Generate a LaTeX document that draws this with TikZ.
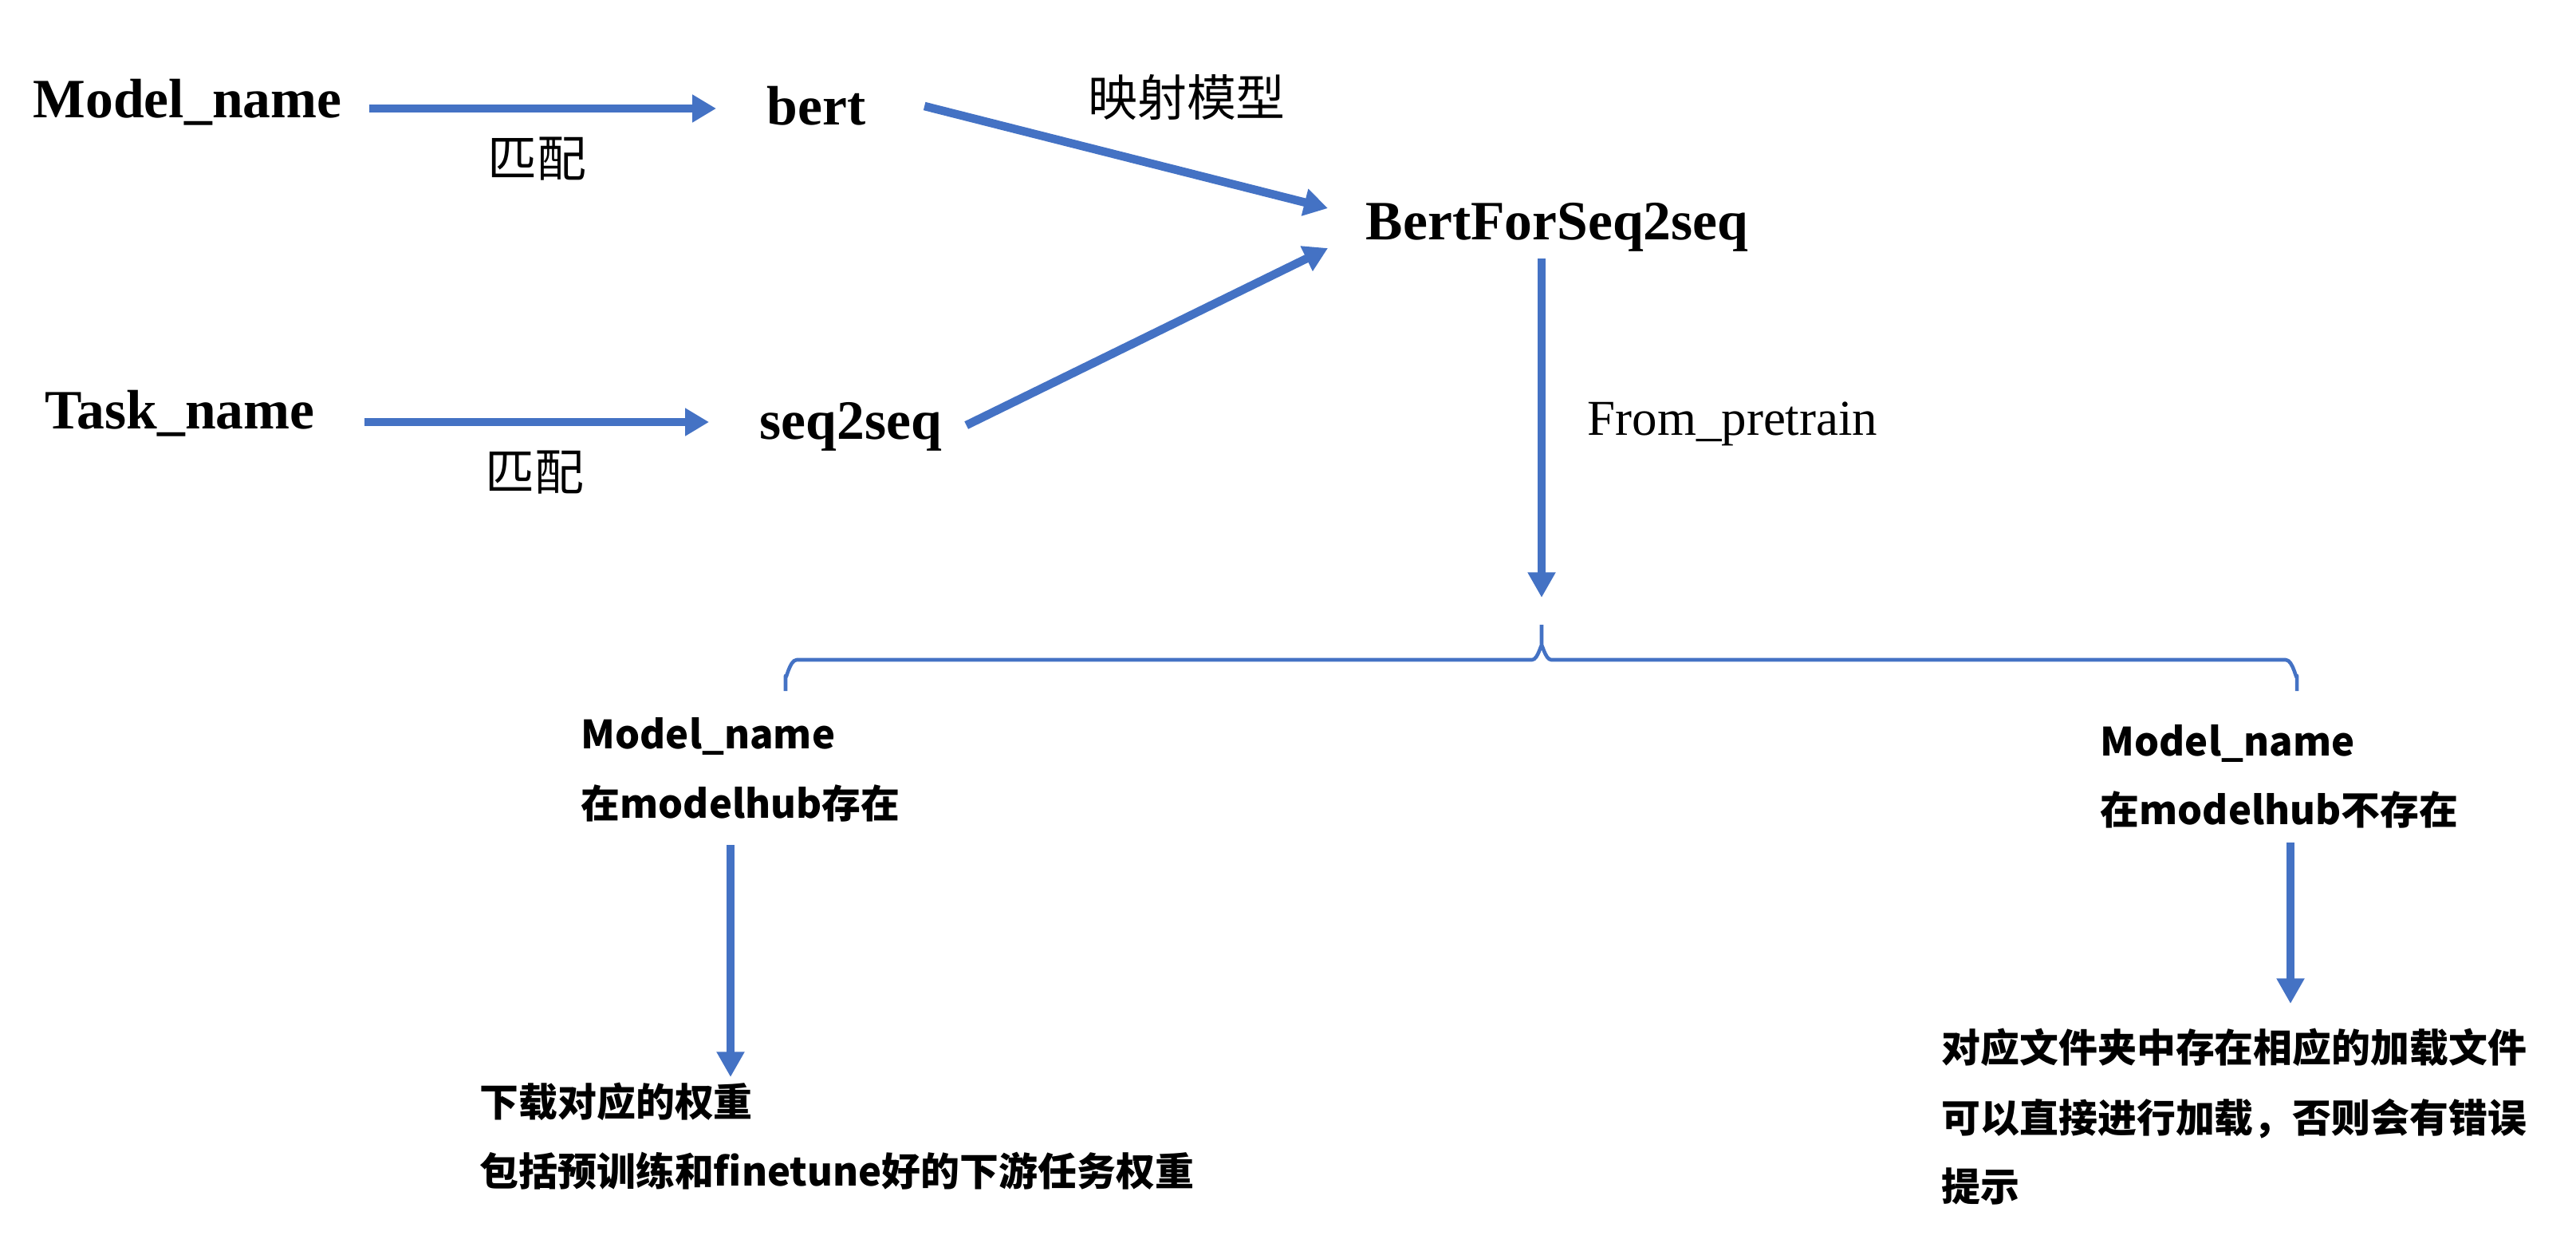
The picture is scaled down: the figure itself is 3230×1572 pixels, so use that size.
\documentclass[tikz,border=0pt]{standalone}
\usepackage{fontspec}
\setmainfont{Liberation Serif}
\newfontfamily\cjk{Noto Sans CJK SC}
\usetikzlibrary{arrows.meta,calc}
\definecolor{arrblue}{RGB}{68,114,196}
\tikzset{
  ser/.style={inner sep=0pt,anchor=base west,font=\fontsize{19.8pt}{24pt}\selectfont\bfseries},
  serreg/.style={inner sep=0pt,anchor=base west,font=\fontsize{17.9pt}{22pt}\selectfont},
  cjkreg/.style={inner sep=0pt,font=\cjk\fontsize{17.6pt}{22pt}\selectfont},
  cjkbold/.style={inner sep=0pt,anchor=base west,font=\cjk\bfseries\fontsize{13.9pt}{20pt}\selectfont},
  arr/.style={draw=arrblue,line width=3pt,-{Triangle[width=9.4pt,length=8.5pt]}},
  varr/.style={draw=arrblue,line width=2.8pt,-{Triangle[width=9.4pt,length=9pt]}},
  bracestyle/.style={draw=arrblue,line width=1.3pt,line join=round}
}
\begin{document}
\begin{tikzpicture}[x=0.01cm,y=-0.01cm]
\useasboundingbox (0,0) rectangle (3230,1572);
% top section
\node[ser] (mn1) at (41,147) {Model\_name};
\node[ser] (bert) at (961,156) {bert};
\node[cjkreg] (map) at (1488,122) {映射模型};
\node[cjkreg] (pp1) at (673,199) {匹配};
\node[ser] (tn) at (56,537) {Task\_name};
\node[ser] (s2s) at (952,550) {seq2seq};
\node[cjkreg] (pp2) at (670,592) {匹配};
\node[ser] (bfs) at (1712,300) {BertForSeq2seq};
\node[serreg] (fp) at (1990,545) {From\_pretrain};
\draw[arr] ($(mn1.base east)+(34,-11)$) -- ($(bert.base west)+(-63,-20)$);
\draw[arr] ($(tn.base east)+(62,-8)$) -- ($(s2s.base west)+(-63,-21)$);
\draw[arr] ($(bert.base east)+(73,-23)$) -- ($(bfs.base west)+(-47,-39)$);
\draw[arr] ($(s2s.base east)+(30,-17)$) -- ($(bfs.base west)+(-47,11)$);
% brace
\coordinate (bracetip) at (1933,783);
\draw[bracestyle] (985,866) -- (985,847) to[out=-90,in=180] (999,827) -- (1921,827)
  to[out=0,in=90] (1933,811) -- (bracetip);
\draw[bracestyle] (1933,811) to[out=90,in=180] (1945,827) -- (2866,827)
  to[out=0,in=-90] (2880,847) -- (2880,866);
\draw[varr] ($(bfs.base west)+(221,24)$) -- ($(bracetip)+(0,-34)$);
% bottom left
\node[cjkbold] (mL1) at (728,938) {Model\_name};
\node[cjkbold] (mL2) at (728,1025) {在modelhub存在};
\node[cjkbold] (dl1) at (601,1399) {下载对应的权重};
\node[cjkbold] (dl2) at (601,1486) {包括预训练和finetune好的下游任务权重};
\draw[varr] ($(mL2.base west)+(188,34)$) -- ($(dl1.base west)+(315,-49)$);
% bottom right
\node[cjkbold] (mR1) at (2633,947) {Model\_name};
\node[cjkbold] (mR2) at (2633,1033) {在modelhub不存在};
\node[cjkbold] (r1) at (2434,1331) {对应文件夹中存在相应的加载文件};
\node[cjkbold] (r2) at (2434,1419) {可以直接进行加载，否则会有错误};
\node[cjkbold] (r3) at (2434,1505) {提示};
\draw[varr] ($(mR2.base west)+(239,23)$) -- ($(r1.base west)+(438,-73)$);
\end{tikzpicture}
\end{document}
